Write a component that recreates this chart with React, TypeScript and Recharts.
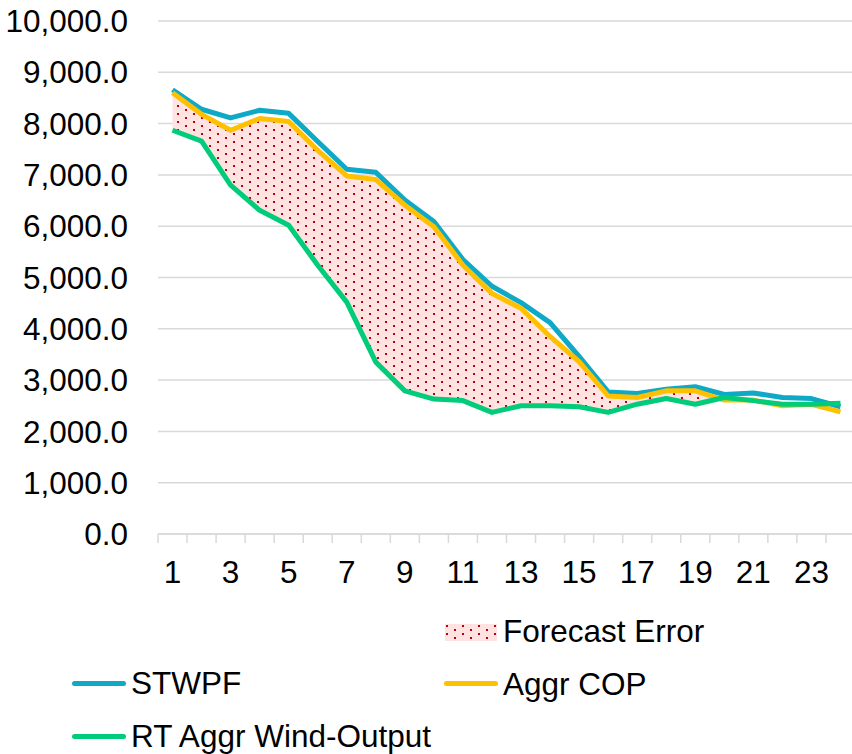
import { Area, CartesianGrid, ComposedChart, Line, XAxis, YAxis } from 'recharts'

const HOURS = [1, 2, 3, 4, 5, 6, 7, 8, 9, 10, 11, 12, 13, 14, 15, 16, 17, 18, 19, 20, 21, 22, 23, 24]

const STWPF = [
  8660, 8280, 8110, 8260, 8200, 7650, 7110, 7050, 6510, 6090, 5350, 4830, 4510, 4120, 3460, 2770,
  2740, 2820, 2870, 2720, 2750, 2660, 2640, 2480,
]

const AGGR_COP = [
  8600, 8180, 7870, 8100, 8040, 7480, 6980, 6910, 6410, 5990, 5240, 4690, 4400, 3850, 3360, 2690,
  2660, 2790, 2790, 2610, 2610, 2500, 2530, 2380,
]

const RT_WIND = [
  7870, 7660, 6800, 6310, 6020, 5240, 4520, 3350, 2790, 2630, 2600, 2370, 2500, 2500, 2480, 2370,
  2530, 2640, 2530, 2660, 2600, 2530, 2530, 2550,
]

const Y_TICKS = [0, 1000, 2000, 3000, 4000, 5000, 6000, 7000, 8000, 9000, 10000]

const FONT = '"Liberation Sans", Arial, sans-serif'
const FONT_SIZE = 31.5
const GRID = '#D9D9D9'
const BLUE = '#0FA9C8'
const YELLOW = '#FFC000'
const GREEN = '#00CC7A'
const LINE_W = 5

const CHART_W = 860
const CHART_H = 754
const MARGIN = { top: 21, right: 5, bottom: 170, left: 0 }
const Y_AXIS_W = 158
const BAND = (CHART_W - MARGIN.left - MARGIN.right - Y_AXIS_W) / HOURS.length

const data = HOURS.map((hour, i) => ({
  hour,
  stwpf: STWPF[i],
  cop: AGGR_COP[i],
  rt: RT_WIND[i],
  error: [RT_WIND[i], Math.max(AGGR_COP[i], RT_WIND[i])],
}))

function DotPattern({ id }: { id: string }) {
  return (
    <pattern id={id} width={16} height={8} patternUnits="userSpaceOnUse">
      <rect width={16} height={8} fill="#FFE3E3" />
      <rect x={1} y={1} width={2} height={2} fill="#C00000" />
      <rect x={9} y={5} width={2} height={2} fill="#C00000" />
    </pattern>
  )
}

// tick marks sit between categories, labels on every other hour
function HourTick({ x = 0, y = 0, payload, index = 0 }: any) {
  const left = x - BAND / 2
  return (
    <g>
      <line x1={left} x2={left} y1={y} y2={y + 9} stroke={GRID} strokeWidth={1.5} />
      {index === HOURS.length - 1 ? (
        <line x1={x + BAND / 2} x2={x + BAND / 2} y1={y} y2={y + 9} stroke={GRID} strokeWidth={1.5} />
      ) : null}
      {index % 2 === 0 ? (
        <text x={x} y={y + 49} textAnchor="middle" fill="#000" fontSize={FONT_SIZE} fontFamily={FONT}>
          {payload.value}
        </text>
      ) : null}
    </g>
  )
}

const legendText = {
  position: 'absolute' as const,
  fontFamily: FONT,
  fontSize: FONT_SIZE,
  lineHeight: '30px',
  color: '#000',
  whiteSpace: 'nowrap' as const,
}

function LegendLine({ left, top, color }: { left: number; top: number; color: string }) {
  return (
    <div
      style={{
        position: 'absolute',
        left,
        top: top - 2.5,
        width: 54,
        height: 5,
        borderRadius: 3,
        background: color,
      }}
    />
  )
}

export default function App() {
  return (
    <div
      style={{
        position: 'absolute',
        left: 0,
        top: 0,
        width: 852,
        height: 754,
        overflow: 'hidden',
        background: '#fff',
      }}
    >
      <ComposedChart width={CHART_W} height={CHART_H} data={data} margin={MARGIN}>
        <defs>
          <DotPattern id="forecastDots" />
        </defs>
        <CartesianGrid stroke={GRID} strokeWidth={1.5} vertical={false} />
        <XAxis
          dataKey="hour"
          scale="band"
          interval={0}
          height={50}
          tickSize={0}
          tickMargin={0}
          tickLine={false}
          axisLine={{ stroke: GRID, strokeWidth: 1.5 }}
          tick={<HourTick />}
        />
        <YAxis
          width={Y_AXIS_W}
          domain={[0, 10000]}
          ticks={Y_TICKS}
          interval={0}
          tickSize={0}
          tickMargin={30}
          tickLine={false}
          axisLine={false}
          tickFormatter={(v: number) =>
            v.toLocaleString('en-US', { minimumFractionDigits: 1, maximumFractionDigits: 1 })
          }
          tick={{ fill: '#000', fontSize: FONT_SIZE, fontFamily: FONT }}
        />
        <Area
          dataKey="error"
          name="Forecast Error"
          type="linear"
          stroke="none"
          fill="url(#forecastDots)"
          fillOpacity={1}
          isAnimationActive={false}
          activeDot={false}
        />
        <Line
          dataKey="stwpf"
          name="STWPF"
          type="linear"
          stroke={BLUE}
          strokeWidth={LINE_W}
          strokeLinejoin="round"
          dot={false}
          activeDot={false}
          isAnimationActive={false}
        />
        <Line
          dataKey="cop"
          name="Aggr COP"
          type="linear"
          stroke={YELLOW}
          strokeWidth={LINE_W}
          strokeLinejoin="round"
          dot={false}
          activeDot={false}
          isAnimationActive={false}
        />
        <Line
          dataKey="rt"
          name="RT Aggr Wind-Output"
          type="linear"
          stroke={GREEN}
          strokeWidth={LINE_W}
          strokeLinejoin="round"
          dot={false}
          activeDot={false}
          isAnimationActive={false}
        />
      </ComposedChart>

      {/* legend, laid out like the Excel one */}
      <svg style={{ position: 'absolute', left: 445, top: 624 }} width={52} height={17}>
        <defs>
          <DotPattern id="legendDots" />
        </defs>
        <rect width={52} height={17} fill="url(#legendDots)" />
      </svg>
      <div style={{ ...legendText, left: 503, top: 616 }}>Forecast Error</div>

      <LegendLine left={72} top={683} color={BLUE} />
      <div style={{ ...legendText, left: 131, top: 668 }}>STWPF</div>

      <LegendLine left={444} top={683} color={YELLOW} />
      <div style={{ ...legendText, left: 503, top: 669 }}>Aggr COP</div>

      <LegendLine left={72} top={736} color={GREEN} />
      <div style={{ ...legendText, left: 131, top: 721 }}>RT Aggr Wind-Output</div>
    </div>
  )
}
